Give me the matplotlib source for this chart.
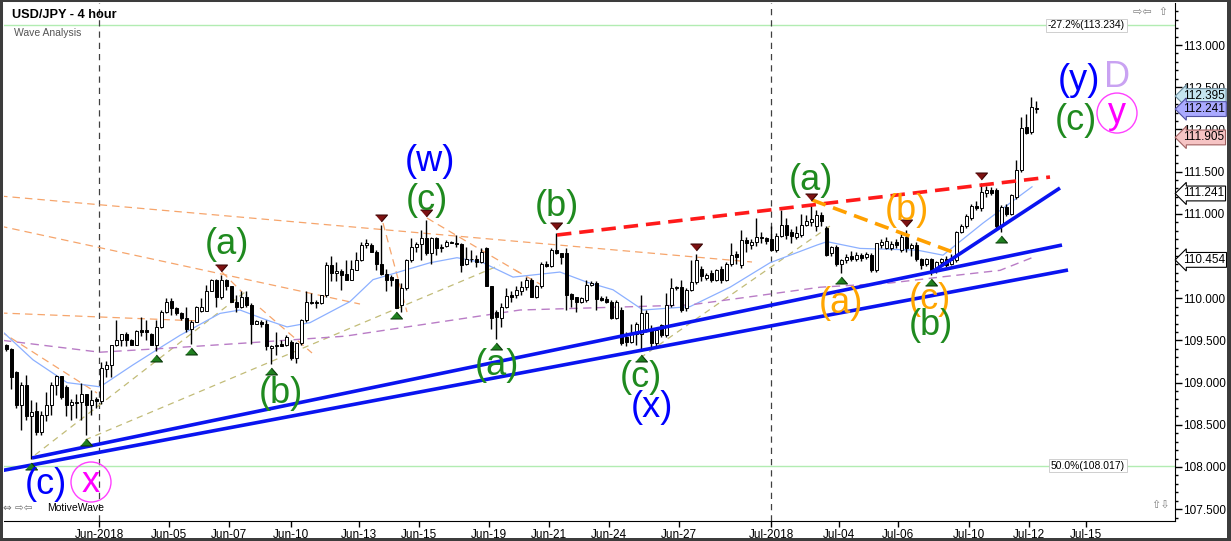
import matplotlib
matplotlib.use("Agg")
import matplotlib.pyplot as plt
import matplotlib.transforms as mtransforms
from matplotlib.patches import Ellipse, Rectangle
from matplotlib.ticker import MultipleLocator

plt.rcParams['font.family'] = ['Liberation Sans', 'DejaVu Sans']

# ---------------- data (4-hour bars, index = bar number) ----------------
opens = [
    109.44, 109.40, 109.13, 108.73, 108.97, 108.61, 108.66, 108.41, 108.62, 108.73,
    108.97, 109.08, 108.95, 108.73, 108.77, 108.77, 108.86, 108.73, 108.80, 108.78,
    109.16, 109.21, 109.45, 109.50, 109.58, 109.51, 109.45, 109.62, 109.62, 109.58,
    109.45, 109.66, 109.84, 109.97, 109.88, 109.82, 109.76, 109.64, 109.72, 109.85,
    109.85, 110.08, 110.22, 110.01, 110.22, 110.14, 109.96, 109.89, 110.02, 109.92,
    109.70, 109.72, 109.70, 109.41, 109.43, 109.46, 109.44, 109.48, 109.29, 109.47,
    109.74, 109.96, 109.96, 109.94, 110.04, 110.39, 110.30, 110.32, 110.29, 110.21,
    110.34, 110.45, 110.63, 110.63, 110.55, 110.41, 110.29, 110.25, 110.23, 109.92,
    110.12, 110.45, 110.61, 110.64, 110.71, 110.53, 110.71, 110.59, 110.62, 110.67,
    110.66, 110.64, 110.40, 110.47, 110.46, 110.43, 110.59, 110.14, 109.84, 109.76,
    109.90, 110.04, 110.04, 110.09, 110.13, 110.22, 110.02, 110.14, 110.41, 110.38,
    110.57, 110.53, 110.53, 110.05, 110.01, 109.96, 109.98, 110.16, 110.18, 110.00,
    109.99, 109.96, 109.76, 109.86, 109.54, 109.48, 109.58, 109.58, 109.63, 109.62,
    109.47, 109.68, 109.56, 109.92, 110.12, 110.13, 109.88, 110.10, 110.19, 110.35,
    110.24, 110.30, 110.22, 110.35, 110.22, 110.40, 110.52, 110.39, 110.69, 110.63,
    110.67, 110.73, 110.71, 110.70, 110.57, 110.74, 110.87, 110.79, 110.73, 110.75,
    110.87, 110.90, 110.85, 110.99, 110.83, 110.53, 110.61, 110.41, 110.45, 110.50,
    110.47, 110.51, 110.49, 110.51, 110.33, 110.63, 110.60, 110.60, 110.67, 110.57,
    110.73, 110.59, 110.63, 110.47, 110.41, 110.47, 110.33, 110.43, 110.46, 110.41,
    110.45, 110.79, 110.85, 110.95, 111.09, 111.07, 111.25, 111.28, 111.28, 110.85,
    111.08, 111.00, 111.20, 111.52, 112.03, 111.97, 112.25]
highs = [
    109.46, 109.41, 109.14, 109.01, 109.09, 108.79, 108.77, 108.66, 108.89, 109.01,
    109.09, 109.08, 108.97, 108.81, 108.87, 108.99, 108.87, 108.91, 108.83, 109.24,
    109.25, 109.45, 109.74, 109.58, 109.60, 109.52, 109.62, 109.78, 109.74, 109.59,
    109.74, 109.86, 110.00, 110.00, 109.90, 109.84, 109.90, 109.74, 109.91, 110.00,
    110.16, 110.23, 110.23, 110.27, 110.23, 110.14, 110.04, 110.08, 110.08, 109.94,
    109.74, 109.74, 109.74, 109.44, 109.60, 109.50, 109.56, 109.50, 109.48, 109.75,
    110.08, 110.06, 109.98, 110.04, 110.43, 110.50, 110.43, 110.35, 110.45, 110.45,
    110.55, 110.67, 110.70, 110.65, 110.57, 110.87, 110.35, 110.27, 110.23, 110.18,
    110.47, 110.71, 110.67, 110.81, 110.93, 110.73, 110.73, 110.64, 110.69, 110.68,
    110.75, 110.65, 110.61, 110.57, 110.51, 110.59, 110.61, 110.14, 109.86, 109.94,
    110.12, 110.08, 110.14, 110.20, 110.25, 110.24, 110.16, 110.43, 110.44, 110.59,
    110.77, 110.53, 110.60, 110.06, 110.02, 110.02, 110.22, 110.20, 110.20, 110.03,
    110.03, 109.98, 109.98, 109.90, 109.60, 109.70, 109.72, 110.04, 109.86, 109.68,
    109.64, 109.70, 110.06, 110.24, 110.15, 110.22, 110.12, 110.45, 110.52, 110.38,
    110.30, 110.34, 110.35, 110.38, 110.43, 110.65, 110.56, 110.81, 110.73, 110.70,
    110.95, 110.78, 110.73, 110.85, 110.77, 111.05, 110.95, 110.82, 110.85, 111.00,
    110.98, 111.12, 111.05, 111.02, 110.86, 110.62, 110.63, 110.46, 110.52, 110.56,
    110.55, 110.53, 110.55, 110.54, 110.66, 110.70, 110.72, 110.68, 110.70, 110.76,
    110.81, 110.65, 110.67, 110.48, 110.48, 110.48, 110.44, 110.48, 110.50, 110.52,
    110.80, 110.88, 111.00, 111.12, 111.15, 111.36, 111.33, 111.32, 111.30, 111.10,
    111.12, 111.24, 111.64, 112.15, 112.18, 112.39, 112.34]
lows = [
    109.38, 108.92, 108.70, 108.44, 108.56, 108.10, 108.38, 108.38, 108.54, 108.62,
    108.85, 108.80, 108.60, 108.56, 108.58, 108.56, 108.38, 108.62, 108.70, 108.75,
    109.07, 109.07, 109.43, 109.43, 109.43, 109.45, 109.44, 109.55, 109.50, 109.44,
    109.37, 109.65, 109.83, 109.80, 109.80, 109.74, 109.60, 109.46, 109.72, 109.84,
    109.85, 110.08, 109.90, 109.99, 110.10, 109.96, 109.84, 109.88, 109.90, 109.46,
    109.69, 109.66, 109.39, 109.22, 109.33, 109.43, 109.43, 109.27, 109.23, 109.44,
    109.72, 109.93, 109.88, 109.93, 110.02, 110.20, 110.20, 110.10, 110.21, 110.21,
    110.33, 110.44, 110.60, 110.55, 110.33, 110.27, 110.08, 110.15, 109.88, 109.84,
    110.10, 110.43, 110.55, 110.45, 110.51, 110.41, 110.51, 110.55, 110.61, 110.65,
    110.61, 110.31, 110.39, 110.43, 110.37, 110.42, 110.14, 109.64, 109.52, 109.66,
    109.88, 109.95, 110.00, 110.04, 110.10, 110.02, 110.00, 110.12, 110.37, 110.37,
    110.52, 110.41, 109.86, 109.90, 109.84, 109.94, 109.96, 110.14, 109.86, 109.97,
    109.94, 109.75, 109.75, 109.45, 109.43, 109.47, 109.45, 109.37, 109.60, 109.41,
    109.43, 109.54, 109.54, 109.90, 110.10, 109.84, 109.85, 110.08, 110.17, 110.20,
    110.22, 110.19, 110.20, 110.18, 110.20, 110.38, 110.40, 110.36, 110.55, 110.58,
    110.62, 110.65, 110.64, 110.56, 110.55, 110.72, 110.70, 110.66, 110.70, 110.72,
    110.85, 110.85, 110.80, 110.86, 110.50, 110.50, 110.38, 110.30, 110.42, 110.44,
    110.44, 110.44, 110.46, 110.31, 110.31, 110.60, 110.58, 110.57, 110.60, 110.55,
    110.55, 110.50, 110.44, 110.35, 110.38, 110.28, 110.30, 110.40, 110.37, 110.39,
    110.43, 110.77, 110.83, 110.93, 111.05, 111.03, 111.20, 111.22, 110.82, 110.79,
    110.97, 110.98, 111.18, 111.50, 111.94, 111.95, 112.20]
closes = [
    109.40, 109.07, 108.73, 108.97, 108.61, 108.65, 108.41, 108.62, 108.73, 108.97,
    109.08, 108.83, 108.73, 108.77, 108.76, 108.86, 108.73, 108.79, 108.78, 109.17,
    109.21, 109.45, 109.50, 109.58, 109.50, 109.45, 109.61, 109.60, 109.60, 109.45,
    109.66, 109.84, 109.96, 109.88, 109.82, 109.76, 109.64, 109.72, 109.90, 109.90,
    110.08, 110.22, 110.01, 110.22, 110.14, 109.96, 109.90, 110.02, 109.92, 109.70,
    109.73, 109.69, 109.43, 109.43, 109.45, 109.43, 109.54, 109.29, 109.47, 109.74,
    109.96, 109.94, 109.94, 110.04, 110.39, 110.30, 110.32, 110.27, 110.21, 110.35,
    110.45, 110.63, 110.66, 110.55, 110.41, 110.29, 110.22, 110.22, 109.88, 110.12,
    110.45, 110.61, 110.64, 110.71, 110.53, 110.71, 110.59, 110.61, 110.67, 110.66,
    110.64, 110.39, 110.47, 110.46, 110.43, 110.55, 110.14, 109.76, 109.78, 109.90,
    110.03, 110.02, 110.10, 110.13, 110.22, 110.02, 110.14, 110.40, 110.38, 110.57,
    110.53, 110.49, 110.04, 109.99, 109.95, 110.00, 110.16, 110.18, 109.99, 109.98,
    109.96, 109.76, 109.96, 109.47, 109.48, 109.58, 109.70, 109.82, 109.82, 109.47,
    109.62, 109.56, 109.92, 110.12, 110.13, 109.86, 110.10, 110.19, 110.45, 110.26,
    110.28, 110.22, 110.33, 110.22, 110.41, 110.51, 110.49, 110.69, 110.65, 110.67,
    110.73, 110.71, 110.68, 110.57, 110.74, 110.87, 110.75, 110.74, 110.77, 110.87,
    110.91, 110.94, 110.99, 110.91, 110.51, 110.61, 110.41, 110.45, 110.49, 110.47,
    110.51, 110.48, 110.52, 110.33, 110.65, 110.67, 110.68, 110.64, 110.63, 110.73,
    110.59, 110.63, 110.47, 110.39, 110.47, 110.31, 110.43, 110.46, 110.39, 110.45,
    110.79, 110.85, 110.97, 111.09, 111.07, 111.26, 111.28, 111.25, 110.85, 111.08,
    111.00, 111.22, 111.52, 112.02, 111.96, 112.27, 112.24]

tick_pos = [18.6, 32.6, 44.6, 57.0, 70.6, 82.6, 96.6, 108.6, 120.6, 134.6,
            153.0, 166.6, 178.4, 192.6, 204.6, 216.0]
tick_labels = ['Jun-2018', 'Jun-05', 'Jun-07', 'Jun-10', 'Jun-13', 'Jun-15',
               'Jun-19', 'Jun-21', 'Jun-24', 'Jun-27', 'Jul-2018', 'Jul-04',
               'Jul-06', 'Jul-10', 'Jul-12', 'Jul-15']
month_lines = [18.6, 153.0]

swing_lows = [5, 16, 30, 37, 53, 78, 98, 127, 167, 185, 199]
swing_highs = [43, 75, 84, 110, 138, 161, 180, 195]

ma_fast_x = [-0.6, 5.4, 12.2, 18.8, 25.4, 30.2, 34.8, 42.8, 46.8, 52.2, 56.2, 60.8,
             68.8, 73.4, 84.8, 90.2, 95.4, 101.4, 110.8, 116.2, 121.4, 127.4, 136.8,
             144.8, 152.8, 162.2, 164.2, 170.8, 182.2, 187.4, 195.4, 205.2]
ma_fast_y = [109.60, 109.27, 109.00, 108.95, 109.21, 109.39, 109.56, 109.82, 109.86,
             109.74, 109.66, 109.71, 109.96, 110.22, 110.42, 110.48, 110.42, 110.25,
             110.31, 110.19, 110.10, 109.86, 109.90, 110.13, 110.42, 110.63, 110.67,
             110.59, 110.57, 110.51, 110.89, 111.32]
ma_slow_x = [-0.6, 18.8, 32.8, 48.2, 67.8, 102.8, 136.8, 162.8, 176.8, 186.8, 198.8, 205.2]
ma_slow_y = [109.50, 109.36, 109.41, 109.47, 109.55, 109.86, 109.92, 110.13, 110.18,
             110.25, 110.33, 110.48]

blue_trend = [((5.2, 108.107), (211.2, 110.630)),
              ((-1.2, 107.953), (212.4, 110.334)),
              ((185.2, 110.310), (210.8, 111.306))]
red_trend = [((110.2, 110.749), (208.8, 111.436))]
orange_trend = [((161.2, 111.164), (190.4, 110.524))]
orange_thin = [((-1.2, 111.211), (149.2, 110.429)),
               ((-1.2, 110.855), (70.8, 109.931)),
               ((-1.2, 109.825), (38.8, 109.730)),
               ((-1.2, 109.611), (18.2, 108.877)),
               ((43.2, 110.310), (47.2, 110.073)),
               ((50.8, 109.884), (61.2, 109.351)),
               ((75.4, 110.891), (80.2, 109.836)),
               ((84.2, 110.950), (102.8, 110.299)),
               ((101.8, 110.334), (108.2, 110.121))]
tan_thin = [((5.8, 108.142), (47.8, 110.073)),
            ((15.8, 108.320), (98.8, 110.393)),
            ((126.8, 109.291), (164.8, 110.855))]

GREEN, BLUE, ORANGE, MAGENTA, LAVENDER = '#1f8a1f', '#0000ff', '#ffa500', '#ff00ff', '#c9a2f2'
wave_labels = [('(c)', 8.0, 107.787, BLUE), ('x', 17.0, 107.822, MAGENTA),
               ('(a)', 44.2, 110.642, GREEN), ('(b)', 55.0, 108.865, GREEN),
               ('(w)', 84.8, 111.625, BLUE), ('(c)', 84.2, 111.163, GREEN),
               ('(a)', 98.2, 109.197, GREEN), ('(b)', 110.2, 111.081, GREEN),
               ('(c)', 127.0, 109.055, GREEN), ('(x)', 129.2, 108.699, BLUE),
               ('(a)', 161.0, 111.400, GREEN), ('(a)', 167.0, 109.943, ORANGE),
               ('(b)', 180.2, 111.045, ORANGE), ('(c)', 184.8, 109.979, ORANGE),
               ('(b)', 185.0, 109.671, GREEN), ('(y)', 214.6, 112.585, BLUE),
               ('D', 222.2, 112.621, LAVENDER), ('(c)', 214.0, 112.111, GREEN),
               ('y', 222.2, 112.194, MAGENTA)]
circled = [(17.0, 107.822), (222.2, 112.194)]

flag_values = [112.395, 112.241, 111.905, 111.241, 110.454]
flag_colors = [('#c4e4f0', '#6a8a9a'), ('#aaaaff', '#5050a0'), ('#f6c4c4', '#a06060'),
               ('white', 'black'), ('white', 'black')]
fib_levels = [113.234, 108.017]
fib_texts = ['-27.2%(113.234)', '50.0%(108.017)']

# ---------------- figure ----------------
W, H = 1231, 541
fig = plt.figure(figsize=(W / 100, H / 100), dpi=100)
fig.patch.set_facecolor('white')
Lp, Rp, Tp, Bp = 4, 1175, 3, 521
ax = fig.add_axes([Lp / W, 1 - Bp / H, (Rp - Lp) / W, (Bp - Tp) / H])
ax.set_facecolor('white')
ax.set_xlim(-0.4, 233.8)
ax.set_ylim(107.36, 113.498)

# fib lines
for lev, txt in zip(fib_levels, fib_texts):
    ax.axhline(lev, color='#b2ecb2', lw=1.0, zorder=1)
    ax.text(223.8, lev, txt, fontsize=7.5, ha='right', va='center', color='black',
            bbox=dict(boxstyle='square,pad=0.15', fc='white', ec='#c8c8c8', lw=0.6), zorder=8)

# month separators
for m in month_lines:
    ax.axvline(m, color='#404040', lw=0.9, dashes=(5, 4), zorder=1)

# thin guide lines
for (x0, y0), (x1, y1) in orange_thin:
    ax.plot([x0, x1], [y0, y1], color='#f6a56c', lw=0.9, dashes=(6, 4), zorder=1.5)
for (x0, y0), (x1, y1) in tan_thin:
    ax.plot([x0, x1], [y0, y1], color='#c2bc78', lw=0.9, dashes=(5, 4), zorder=1.5)
ax.plot(ma_fast_x, ma_fast_y, color='#8cb0ff', lw=0.9, zorder=1.6)
ax.plot(ma_slow_x, ma_slow_y, color='#b97cc6', lw=1.0, dashes=(6, 4), zorder=1.6)

# candles
idx = list(range(len(closes)))
hi = [max(h, o, c) for h, o, c in zip(highs, opens, closes)]
lo = [min(l, o, c) for l, o, c in zip(lows, opens, closes)]
ax.vlines(idx, lo, hi, color='black', lw=1.0, zorder=3)
bottoms = [min(o, c) for o, c in zip(opens, closes)]
heights = [max(abs(c - o), 0.008) for o, c in zip(opens, closes)]
fills = ['white' if c >= o else 'black' for o, c in zip(opens, closes)]
ax.bar(idx, heights, bottom=bottoms, width=0.6, color=fills, edgecolor='black',
       linewidth=0.7, zorder=4)

# trend lines
for (x0, y0), (x1, y1) in blue_trend:
    ax.plot([x0, x1], [y0, y1], color='#0a14f0', lw=2.6, solid_capstyle='butt', zorder=5)
for (x0, y0), (x1, y1) in red_trend:
    ax.plot([x0, x1], [y0, y1], color='#ff1a1a', lw=2.6, dashes=(4, 2.2), zorder=5)
for (x0, y0), (x1, y1) in orange_trend:
    ax.plot([x0, x1], [y0, y1], color='#ffa000', lw=2.6, dashes=(4, 2.2), zorder=5)

# swing markers
tri_up = [(-1, -0.58), (1, -0.58), (0, 0.58)]
tri_dn = [(-1, 0.58), (1, 0.58), (0, -0.58)]
ax.plot(swing_lows, [lo[i] - 0.083 for i in swing_lows], ls='none', marker=tri_up,
        ms=8.6, mfc='#1f7f1f', mec='#0b3a0b', mew=0.8, zorder=6)
ax.plot(swing_highs, [hi[i] + 0.083 for i in swing_highs], ls='none', marker=tri_dn,
        ms=8.6, mfc='#7d1212', mec='#3a0505', mew=0.8, zorder=6)

# wave labels
for txt, x, y, col in wave_labels:
    ax.text(x, y, txt, color=col, fontsize=26, ha='center', va='center', zorder=7)
for cx, cy in circled:
    ax.add_patch(Ellipse((cx, cy), 40 / 5.0, 40 / 84.4, fill=False, ec='#ff40ff', lw=1.0, zorder=7))
ax.text(-1.6, 110.13, ')', color=BLUE, fontsize=22, ha='center', va='center', zorder=7)

# axes styling
for s in ['top', 'left']:
    ax.spines[s].set_visible(False)
ax.spines['right'].set_color('black')
ax.spines['bottom'].set_color('black')
ax.yaxis.tick_right()
ax.yaxis.set_major_locator(MultipleLocator(0.5))
ax.yaxis.set_minor_locator(MultipleLocator(0.1))
ax.yaxis.set_major_formatter(matplotlib.ticker.FuncFormatter(lambda v, p: f'{v:.3f}'))
ax.tick_params(axis='y', which='major', length=5, width=1, pad=0.8, labelsize=8.5, colors='black')
ax.tick_params(axis='y', which='minor', length=2.5, width=1)
ax.set_xticks(tick_pos)
ax.set_xticklabels(tick_labels)
ax.tick_params(axis='x', length=4.5, width=1, pad=1.5, labelsize=8.5)

# price flags on the right axis
trans = mtransforms.blended_transform_factory(ax.transAxes, ax.transData)
for val, (fc, ec) in zip(flag_values, flag_colors):
    ax.text(1 + 8 / (Rp - Lp), val, f'{val:.3f}', transform=trans, fontsize=8.5,
            ha='left', va='center', color='black', clip_on=False, zorder=10,
            bbox=dict(boxstyle='larrow,pad=0.12', fc=fc, ec=ec, lw=0.8))

# header / footer texts
fig.text(12 / W, 1 - 15 / H, 'USD/JPY - 4 hour', fontsize=9.2, fontweight='bold', va='center')
fig.text(14 / W, 1 - 33 / H, 'Wave Analysis', fontsize=7.5, color='#555555', va='center')
fig.text(3 / W, 1 - 508 / H, '\u21d4 \u21e8\u21e6', fontsize=7.5, color='#707070', va='center',
         family=['DejaVu Sans'])
fig.text(47 / W, 1 - 508 / H, 'MotiveWave', fontsize=7.5, color='black', va='center')
fig.text(1168 / W, 1 - 12 / H, '\u21e8\u21e6  \u21e7', fontsize=8, color='#808080', va='center',
         ha='right', family=['DejaVu Sans'])
fig.text(1170 / W, 1 - 505 / H, '\u21e7\u21e9', fontsize=8, color='#808080', va='center',
         ha='right', family=['DejaVu Sans'])

# inner frame and window borders
fig.add_artist(Rectangle((Lp / W, 1 - 516 / H), (1170 - Lp) / W, (516 - Tp) / H, fill=False,
                         ec='#c4c4c4', lw=0.8, transform=fig.transFigure, zorder=0))
for (x, y, w, h) in [(0, 0, 3, H), (W - 4, 0, 4, H), (0, 0, W, 2), (0, H - 3, W, 3)]:
    fig.add_artist(Rectangle((x / W, 1 - (y + h) / H), w / W, h / H, fc='#3c3c3c', ec='none',
                             transform=fig.transFigure, zorder=20))

fig.savefig('out.png', dpi=100)
